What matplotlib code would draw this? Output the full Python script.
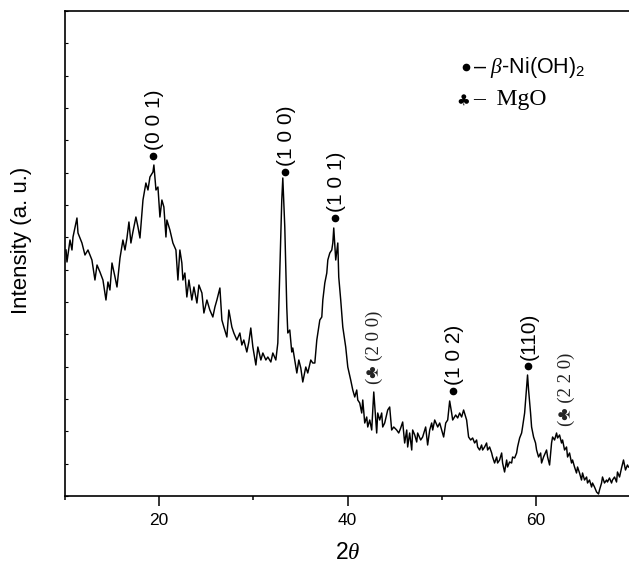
import numpy as np
import matplotlib
matplotlib.use("Agg")
import matplotlib.pyplot as plt

plt.rcParams['font.family'] = ['Liberation Sans', 'DejaVu Sans']
plt.rcParams['mathtext.fontset'] = 'custom'
plt.rcParams['mathtext.rm'] = 'Liberation Sans'
plt.rcParams['mathtext.it'] = 'Liberation Serif:italic'

# XRD pattern: diffraction angle 2θ (deg) and intensity (a. u.)
two_theta = [
    10.11, 10.21, 10.53, 10.74, 10.85, 11.27, 11.38, 11.80, 12.12, 12.44, 12.86, 13.18,
    13.40, 13.71, 14.03, 14.35, 14.56, 14.77, 14.99, 15.31, 15.52, 15.84, 16.15, 16.37,
    16.58, 16.79, 17.00, 17.21, 17.53, 17.75, 17.96, 18.17, 18.28,
    18.59, 18.81, 19.02, 19.34, 19.44, 19.66, 19.87, 20.08, 20.29, 20.50, 20.72, 20.82,
    21.14, 21.46, 21.78, 21.99, 22.20, 22.41, 22.52, 22.73, 22.94, 23.16, 23.47, 23.69,
    24.01, 24.22, 24.54, 24.75, 25.07, 25.38, 25.70, 25.92, 26.13, 26.45, 26.66, 26.87,
    27.19, 27.40,
    27.72, 27.93, 28.25, 28.57, 28.78, 28.99, 29.31, 29.52, 29.73, 29.95, 30.27, 30.48,
    30.80, 31.01, 31.33, 31.54, 31.86, 32.07, 32.39, 32.60, 32.81, 33.02, 33.13, 33.34,
    33.55, 33.66, 33.87, 34.08, 34.19, 34.40, 34.62, 34.83, 35.04, 35.25, 35.57, 35.78,
    36.10, 36.31,
    36.53, 36.74, 36.85, 37.06, 37.27, 37.38, 37.59, 37.80, 37.91, 38.12, 38.33, 38.44,
    38.54, 38.75, 38.97, 39.07, 39.28, 39.50, 39.81, 40.03, 40.34, 40.56, 40.77, 40.98,
    41.09, 41.30, 41.51, 41.62, 41.83, 42.04, 42.15, 42.36, 42.57, 42.79, 43.10, 43.21,
    43.42, 43.63, 43.74, 43.95, 44.27, 44.48, 44.69, 44.91,
    45.22, 45.44, 45.65, 45.86, 46.07, 46.29, 46.39, 46.60, 46.82, 46.92, 47.14, 47.35,
    47.45, 47.77, 47.98, 48.30, 48.51, 48.73, 48.94, 49.05, 49.26, 49.58, 49.79, 50.00,
    50.21, 50.43, 50.64, 50.85, 51.06, 51.17, 51.49, 51.70, 51.91, 52.12, 52.33, 52.65,
    52.86, 53.08, 53.29,
    53.50, 53.71, 53.82, 54.03, 54.24, 54.35, 54.56, 54.77, 54.88, 55.09, 55.31, 55.41,
    55.62, 55.84, 55.94, 56.15, 56.37, 56.47, 56.68, 56.90, 57.00, 57.21, 57.43, 57.53,
    57.75, 57.96, 58.06, 58.28, 58.49, 58.59, 58.81, 59.02, 59.12, 59.23, 59.44, 59.55,
    59.76, 59.97, 60.08, 60.29, 60.51, 60.61, 60.82, 61.14, 61.25, 61.46, 61.67, 61.78,
    61.99, 62.20, 62.31, 62.52, 62.73, 62.84, 63.05, 63.26, 63.37, 63.58, 63.79, 63.90,
    64.11, 64.32, 64.43, 64.64, 64.85, 64.96, 65.17, 65.39, 65.49, 65.70, 65.92, 66.02,
    66.23, 66.45, 66.66, 66.76, 66.98, 67.08, 67.29, 67.51, 67.61, 67.82, 68.04, 68.14,
    68.36, 68.57, 68.67, 68.89, 69.10, 69.31, 69.52, 69.73, 69.84,
]
intensity = [
    246, 234, 256, 246, 259, 278, 263, 253, 241, 246, 236, 216,
    231, 224, 216, 196, 214, 206, 233, 219, 209, 238, 256, 246,
    258, 274, 253, 264, 279, 269, 258, 283, 296,
    313, 306, 319, 324, 331, 306, 309, 279, 296, 289, 259, 276,
    266, 253, 246, 216, 246, 233, 216, 223, 199, 216, 196, 209,
    193, 211, 203, 183, 196, 186, 179, 189, 196, 208, 176, 169,
    159, 186,
    169, 163, 156, 163, 151, 156, 144, 154, 168, 149, 131, 149,
    136, 143, 136, 139, 134, 143, 136, 153, 226, 296, 318, 269,
    189, 163, 166, 144, 148, 136, 123, 136, 128, 114, 129, 123,
    136, 133,
    133, 156, 163, 176, 179, 196, 213, 223, 236, 243, 246, 253,
    268, 236, 253, 219, 196, 169, 149, 129, 116, 106, 99, 106,
    96, 93, 83, 96, 73, 79, 69, 76, 66, 104, 63, 83,
    76, 83, 69, 73, 86, 89, 66, 69,
    66, 63, 68, 74, 53, 66, 49, 63, 46, 66, 61, 54,
    63, 56, 59, 69, 51, 66, 73, 66, 76, 69, 73, 66,
    59, 73, 76, 95, 83, 76, 81, 78, 83, 79, 86, 76,
    59, 56, 58,
    53, 56, 49, 46, 51, 46, 49, 53, 46, 49, 43, 39,
    33, 39, 33, 36, 43, 33, 24, 36, 29, 34, 33, 39,
    38, 43, 49, 58, 63, 69, 83, 109, 121, 106, 83, 69,
    59, 53, 46, 39, 43, 33, 39, 46, 39, 31, 53, 59,
    56, 63, 58, 61, 53, 56, 46, 49, 39, 43, 33, 36,
    29, 23, 29, 23, 16, 23, 16, 19, 13, 16, 9, 13,
    9, 4, 2, 6, 13, 19, 13, 16, 14, 18, 13, 16,
    19, 14, 24, 19, 28, 36, 26, 31, 29,
]

# Indexed reflections of beta-Ni(OH)2 (marked with a dot)
nioh_hkl = ["(0 0 1)", "(1 0 0)", "(1 0 1)", "(1 0 2)", "(110)"]
nioh_pos = [19.34, 33.34, 38.65, 51.17, 59.12]
nioh_mark = [340, 324, 278, 105, 130]

# Indexed reflections of MgO (marked with a club)
mgo_hkl = ["(2 0 0)", "(2 2 0)"]
mgo_pos = [42.9, 63.2]
mgo_mark = [112, 70]

fig = plt.figure(figsize=(6.29, 5.65), dpi=100)
ax = fig.add_axes([65 / 629, 69 / 565, 565 / 629, 485 / 565])

ax.plot(two_theta, intensity, color='black', lw=1.05)

ax.set_xlim(10, 70)
ax.set_ylim(0, 485)

for s in ['left', 'bottom', 'top']:
    ax.spines[s].set_linewidth(1.2)
ax.spines['right'].set_visible(False)

ax.set_xticks([20, 40, 60])
ax.set_xticks([10, 30, 50, 70], minor=True)
ax.tick_params(axis='x', which='major', direction='out', length=7, width=1.1,
               labelsize=12.5, pad=5, top=False)
ax.tick_params(axis='x', which='minor', direction='out', length=3, width=1.1, top=False)
ax.set_yticks(np.linspace(0, 485, 16))
ax.tick_params(axis='y', which='major', direction='in', length=2.5, width=0.8,
               labelleft=False, right=False)

ax.set_xlabel("2$\\it{\\theta}$", fontsize=16.5)
ax.xaxis.set_label_coords(0.5, -0.093)
ax.set_ylabel("Intensity (a. u.)", fontsize=16)
ax.yaxis.set_label_coords(-0.058, 0.528)

# beta-Ni(OH)2 reflections
for hkl, x, y in zip(nioh_hkl, nioh_pos, nioh_mark):
    ax.plot([x], [y], 'o', color='black', ms=4.5, clip_on=False)
    ax.annotate(hkl, xy=(x, y), xytext=(1, 4), textcoords='offset points',
                rotation=90, ha='center', va='bottom', fontsize=15)

# MgO reflections
for hkl, x, y in zip(mgo_hkl, mgo_pos, mgo_mark):
    ax.annotate("(\u2663 " + hkl, xy=(x, y), xytext=(0, 0), textcoords='offset points',
                rotation=90, ha='center', va='bottom', fontsize=13.5,
                family=['Liberation Serif', 'DejaVu Sans'], color='#222222')

# phase key
key_y1, key_y2 = 0.8845, 0.8165
ax.plot([0.7097], [key_y1], 'o', color='black', ms=4.5, transform=ax.transAxes,
        clip_on=False)
ax.text(0.722, key_y1, "\u2013 $\\it{\\beta}$-Ni(OH)$_2$", transform=ax.transAxes,
        va='center', ha='left', fontsize=15.5)
ax.text(0.704, key_y2, "\u2663", transform=ax.transAxes, va='center', ha='center',
        fontsize=11, family=['DejaVu Sans'])
ax.text(0.722, key_y2, "\u2013  MgO", transform=ax.transAxes, va='center', ha='left',
        fontsize=17, family=['Liberation Serif', 'DejaVu Sans'])

fig.savefig("out.png", dpi=100)
